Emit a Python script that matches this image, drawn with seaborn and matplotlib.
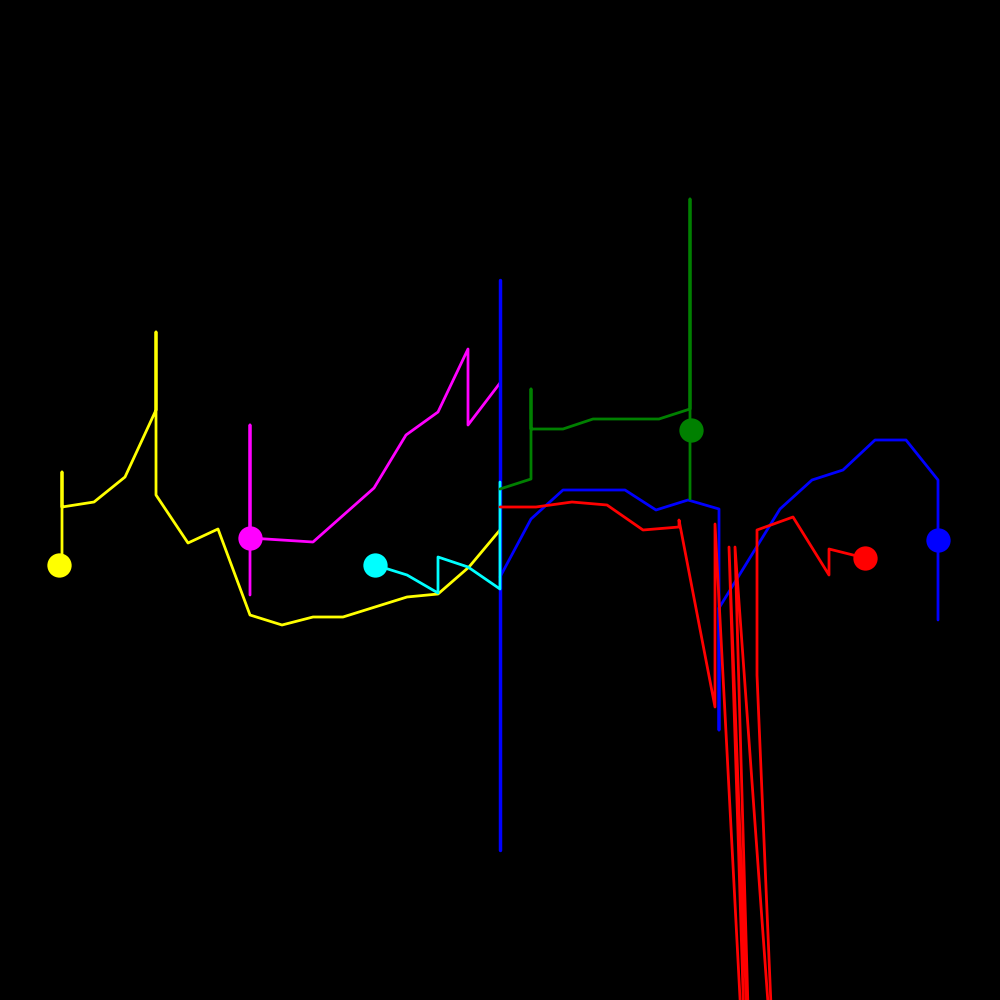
"""
Colour walks on a black canvas: six polylines with a round marker each.
"""

import matplotlib

matplotlib.use("Agg")
import matplotlib.pyplot as plt
import seaborn as sns

sns.set_theme(style="dark", rc={"axes.facecolor": "black", "figure.facecolor": "black"})

# Series values (x along the canvas, y measured downwards)
yellow_x = [62, 62, 62, 94, 125, 156, 156, 156, 188, 218, 250, 282, 313, 343, 407, 438, 469, 500]
yellow_y = [562, 472, 507, 502, 477, 410, 332, 495, 543, 529, 615, 625, 617, 617, 597, 594, 567, 530]

magenta_x = [250, 250, 250, 313, 374, 406, 438, 468, 468, 500]
magenta_y = [595, 425, 538, 542, 488, 435, 412, 349, 425, 383]

blue_x = [500, 531, 563, 625, 656, 688, 719, 719, 719, 780, 812, 843, 875, 906, 938, 938]
blue_y = [577, 519, 490, 490, 510, 500, 509, 730, 608, 509, 480, 470, 440, 440, 480, 620]
blue_bar_x = [500, 500]
blue_bar_y = [280, 850]

cyan_x = [375, 407, 438, 438, 468, 500, 500]
cyan_y = [565, 575, 593, 557, 567, 589, 482]

green_x = [500, 531, 531, 531, 563, 593, 659, 690, 690, 690]
green_y = [489, 479, 389, 429, 429, 419, 419, 409, 199, 499]

red_x = [500, 536, 572, 607, 643, 679, 679, 715, 715, 748, 729, 752, 735, 775, 757, 757, 793, 829, 829, 865]
red_y = [507, 507, 502, 505, 530, 527, 520, 707, 524, 1150, 547, 1150, 547, 1100, 675, 530, 517, 575, 549, 558]

# Marker positions
dot_x = {"yellow": 59, "magenta": 250, "cyan": 375, "green": 691, "red": 865, "blue": 938}
dot_y = {"yellow": 565, "magenta": 538, "cyan": 565, "green": 430, "red": 558, "blue": 540}

fig = plt.figure(figsize=(10, 10), dpi=100)
ax = fig.add_axes([0, 0, 1, 1])

lw = 2.0
sns.lineplot(x=yellow_x, y=yellow_y, sort=False, estimator=None, color="#ffff00", lw=lw, ax=ax)
sns.lineplot(x=magenta_x, y=magenta_y, sort=False, estimator=None, color="#ff00ff", lw=lw, ax=ax)
sns.lineplot(x=blue_bar_x, y=blue_bar_y, sort=False, estimator=None, color="#0000ff", lw=2.5, ax=ax)
sns.lineplot(x=blue_x, y=blue_y, sort=False, estimator=None, color="#0000ff", lw=lw, ax=ax)
sns.lineplot(x=cyan_x, y=cyan_y, sort=False, estimator=None, color="#00ffff", lw=lw, ax=ax)
sns.lineplot(x=green_x, y=green_y, sort=False, estimator=None, color="#008000", lw=lw, ax=ax)
sns.lineplot(x=red_x, y=red_y, sort=False, estimator=None, color="#ff0000", lw=lw, ax=ax)

colours = {"yellow": "#ffff00", "magenta": "#ff00ff", "cyan": "#00ffff",
           "green": "#008000", "red": "#ff0000", "blue": "#0000ff"}
for name, c in colours.items():
    ax.plot(dot_x[name], dot_y[name], "o", color=c, markersize=17.5, markeredgewidth=0)

ax.set_xlim(0, 1000)
ax.set_ylim(1000, 0)
ax.set_axis_off()

plt.savefig("out.png", dpi=100, facecolor="black")
